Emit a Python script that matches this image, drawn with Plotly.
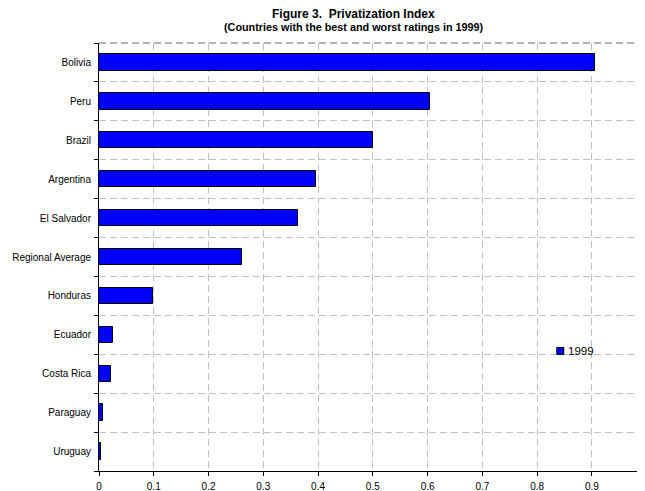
import plotly.graph_objects as go

countries = ["Bolivia", "Peru", "Brazil", "Argentina", "El Salvador", "Regional Average",
             "Honduras", "Ecuador", "Costa Rica", "Paraguay", "Uruguay"]
values_1999 = [0.905, 0.605, 0.50, 0.396, 0.364, 0.261, 0.099, 0.026, 0.021, 0.008, 0.004]
x_ticks = [0, 0.1, 0.2, 0.3, 0.4, 0.5, 0.6, 0.7, 0.8, 0.9]
series_name = "1999"
title_text = "Figure 3.  Privatization Index"
subtitle_text = "(Countries with the best and worst ratings in 1999)"

FONT = "Liberation Sans, Arial, sans-serif"
GRID = "#c0c0c0"
BLUE = "#0000FF"

fig = go.Figure()
fig.add_trace(go.Bar(
    y=countries, x=values_1999, orientation="h",
    marker=dict(color=BLUE, line=dict(color="#000000", width=1)),
    width=0.42, showlegend=False, name=series_name,
))

fig.update_layout(
    width=645, height=491,
    margin=dict(l=91, r=8, t=35, b=28, autoexpand=False),
    paper_bgcolor="white", plot_bgcolor="white",
    font=dict(family=FONT, size=10, color="#000000"),
    bargap=0,
    showlegend=False,
    annotations=[
        dict(text=f"<b>{title_text}</b>", xref="paper", yref="paper",
             x=0.467, y=1, yshift=29.5, xanchor="center", yanchor="middle",
             showarrow=False, font=dict(size=12)),
        dict(text=f"<b>{subtitle_text}</b>", xref="paper", yref="paper",
             x=0.467, y=1, yshift=16, xanchor="center", yanchor="middle",
             showarrow=False, font=dict(size=10.8)),
        dict(text=series_name, xref="paper", yref="paper",
             x=0.855, y=0.2793, xanchor="left", yanchor="middle",
             showarrow=False, font=dict(size=11.5)),
    ],
    shapes=[
        # legend swatch
        dict(type="rect", xref="paper", yref="paper",
             x0=0.8385, x1=0.8513, y0=0.2723, y1=0.2887,
             fillcolor=BLUE, line=dict(color="#000000", width=1)),
        # top boundary dashed line
        dict(type="line", xref="paper", yref="paper", x0=0, x1=1, y0=1, y1=1,
             line=dict(color="#9a9a9a", width=1.5, dash="7px,4px")),
    ],
)

fig.update_xaxes(
    range=[0, 0.997], tickvals=x_ticks, ticktext=[f"{v:g}" for v in x_ticks],
    showline=True, linecolor="#000000", linewidth=1,
    ticks="outside", ticklen=4, tickcolor="#000000",
    showgrid=True, gridcolor=GRID, griddash="7px,4px", gridwidth=1,
    zeroline=False, ticklabelstandoff=2, fixedrange=True, automargin=False,
)
fig.update_yaxes(
    type="category", categoryorder="array", categoryarray=countries[::-1],
    range=[-0.5, 10.5], tickson="boundaries",
    showline=True, linecolor="#000000", linewidth=1,
    ticks="outside", ticklen=4, tickcolor="#000000",
    showgrid=True, gridcolor=GRID, griddash="7px,4px", gridwidth=1,
    zeroline=False, ticklabelstandoff=5, fixedrange=True, automargin=False,
)

fig.write_html("out.html")
